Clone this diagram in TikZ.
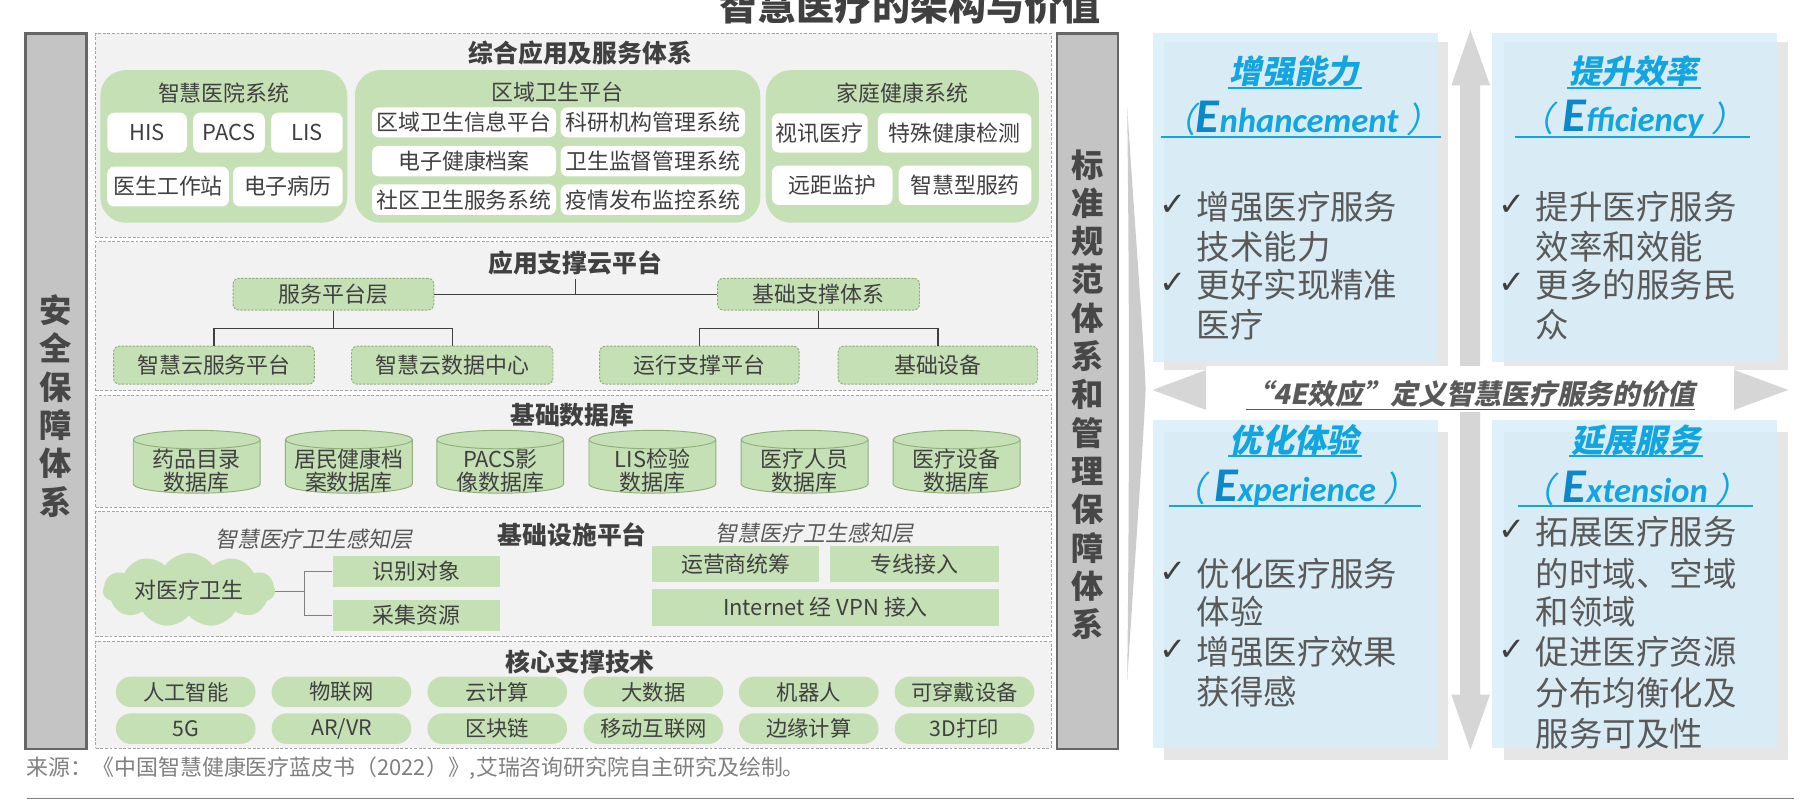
\documentclass[tikz,border=0pt]{standalone}
\usepackage{fontspec}
\setmainfont{Noto Sans CJK SC}
\newfontfamily\cjkit{Noto Sans CJK SC}[FakeSlant=0.2]
\newfontfamily\carl{Carlito}
\newfontfamily\dejavu{DejaVu Sans}
\usetikzlibrary{shapes.geometric,shapes.symbols}
\definecolor{txt}{HTML}{404040}
\definecolor{grn}{HTML}{C5E0B4}
\definecolor{grnd}{HTML}{8FAE7C}
\definecolor{pnl}{HTML}{F2F2F2}
\definecolor{pnlb}{HTML}{A6A6A6}
\definecolor{blueT}{HTML}{12A5DF}
\definecolor{blueE}{HTML}{0A88C8}
\definecolor{boxbl}{RGB}{214,238,250}
\definecolor{shd}{HTML}{E6E6E6}
\definecolor{arr}{HTML}{D6D6D6}
\definecolor{btxt}{HTML}{595959}
\definecolor{srcg}{HTML}{808080}
\definecolor{barg}{HTML}{C4C4C4}
\tikzset{
  gbar/.style={fill=barg, draw=gray!80!black, line width=2pt, inner sep=0},
  vtext/.style={align=center, font=\bfseries\fontsize{28}{33.2}\selectfont, text=black!72},
  panel/.style={draw=pnlb, dash pattern=on 2.5pt off 1.5pt, line width=0.8pt, fill=pnl, inner sep=0},
  ptitle/.style={font=\bfseries\fontsize{21.5}{24}\selectfont, text=txt},
  grp/.style={fill=grn, rounded corners=22pt, inner sep=0},
  glabel/.style={font=\fontsize{19}{22}\selectfont, text=txt},
  wbox/.style={fill=white, rounded corners=6pt, inner sep=0, font=\fontsize{19}{22}\selectfont, text=txt},
  dbox/.style={fill=grn, draw=grnd, dash pattern=on 2pt off 1.2pt, line width=0.8pt, rounded corners=5pt, inner sep=0, font=\fontsize{19}{22}\selectfont, text=txt},
  cylpath/.style={fill=grn, draw=grnd, line width=0.8pt},
  cyltext/.style={align=center, font=\fontsize{19}{19.5}\selectfont, text=txt},
  gbox/.style={fill=grn, inner sep=0, font=\fontsize{19}{22}\selectfont, text=txt},
  pill/.style={fill=grn, rounded corners=13pt, minimum width=121, minimum height=26.5, inner sep=0, font=\fontsize{18.5}{20}\selectfont, text=txt},
  itlab/.style={font=\cjkit\fontsize{19}{22}\selectfont, text=btxt},
  conn/.style={draw=black!75, line width=1pt},
  conn2/.style={draw=gray, line width=1pt},
  shadowbox/.style={fill=shd, inner sep=0, minimum width=246.5, minimum height=284.7},
  bluebox/.style={fill=boxbl, fill opacity=0.8, inner sep=0, minimum width=247, minimum height=284.7},
  btitle/.style={font=\cjkit\bfseries\fontsize{28}{30}\selectfont, text=blueT},
  eline/.style={text=blueT, inner sep=0},
  uline/.style={draw=blueT, line width=1.8pt},
  chk/.style={anchor=west, font=\dejavu\fontsize{28}{30}\selectfont, text=txt, inner sep=0},
  btext/.style={anchor=west, font=\fontsize{29}{34}\selectfont, text=btxt, inner sep=0},
}
\newcommand\Ebig[1]{{\carl\bfseries\itshape\fontsize{42}{42}\selectfont\color{blueE}#1}}
\newcommand\Erest[1]{{\carl\bfseries\itshape\fontsize{30}{30}\selectfont #1}}
\newcommand\Par[1]{{\cjkit\fontsize{30}{30}\selectfont #1}}
\begin{document}
\begin{tikzpicture}[x=1pt,y=-1pt]
\useasboundingbox (0,0) rectangle (1568,695);
\fill[white] (0,0) rectangle (1568,695);

% main title
\node[font=\bfseries\fontsize{33}{36}\selectfont, text=txt] (title) at (789,5) {智慧医疗的架构与价值};

% side bars
\node[gbar, minimum width=53, minimum height=620] (lbar) at (48.5,339) {};
\node[vtext] (ltext) at (48.5,352) {安\\全\\保\\障\\体\\系};
\node[gbar, minimum width=53, minimum height=620] (rbar) at (942.5,339) {};
\node[vtext] (rtext) at (942.5,342) {标\\准\\规\\范\\体\\系\\和\\管\\理\\保\\障\\体\\系};

% panels
\node[panel, minimum width=828, minimum height=176.5] (p1) at (497,117.25) {};
\node[panel, minimum width=828, minimum height=129] (p2) at (497,274) {};
\node[panel, minimum width=828, minimum height=97.3] (p3) at (497,391) {};
\node[panel, minimum width=828, minimum height=108.3] (p4) at (497,497.6) {};
\node[panel, minimum width=828, minimum height=92.6] (p5) at (497,602.3) {};

\node[ptitle] (t1) at (503,46) {综合应用及服务体系};
\node[ptitle] (t2) at (498.5,228) {应用支撑云平台};
\node[ptitle] (t3) at (496,360) {基础数据库};
\node[ptitle] (t4) at (496,463.7) {基础设施平台};
\node[ptitle] (t5) at (503,573.5) {核心支撑技术};

% panel 1 groups
\node[grp, minimum width=214, minimum height=132.3] (g1) at (194,126.9) {};
\node[grp, minimum width=351.4, minimum height=132.3] (g2) at (483.3,126.9) {};
\node[grp, minimum width=236.8, minimum height=132.3] (g3) at (782.1,126.9) {};
\node[glabel] (g1l) at (194,80.6) {智慧医院系统};
\node[glabel] (g2l) at (483.3,79.5) {区域卫生平台};
\node[glabel] (g3l) at (782.1,81) {家庭健康系统};

\node[wbox, minimum width=69, minimum height=34.6] (his) at (127.5,115) {HIS};
\node[wbox, minimum width=62, minimum height=34.6] (pacs) at (198.5,115) {PACS};
\node[wbox, minimum width=62, minimum height=34.6] (lis) at (266,115) {LIS};
\node[wbox, minimum width=105.5, minimum height=34.5] (ysgz) at (145.7,161.7) {医生工作站};
\node[wbox, minimum width=95, minimum height=34.5] (dzbl) at (249.5,161.7) {电子病历};

\node[wbox, minimum width=159.5, minimum height=26] (r11) at (402.2,106) {区域卫生信息平台};
\node[wbox, minimum width=159.8, minimum height=26] (r12) at (565.9,106) {科研机构管理系统};
\node[wbox, minimum width=159.5, minimum height=26.5] (r21) at (402.2,139.7) {电子健康档案};
\node[wbox, minimum width=159.8, minimum height=26.5] (r22) at (565.9,139.7) {卫生监督管理系统};
\node[wbox, minimum width=159.5, minimum height=26.5] (r31) at (402.2,173.1) {社区卫生服务系统};
\node[wbox, minimum width=159.8, minimum height=26.5] (r32) at (565.9,173.1) {疫情发布监控系统};

\node[wbox, minimum width=83, minimum height=34] (sxyl) at (710.5,115.2) {视讯医疗};
\node[wbox, minimum width=133, minimum height=34] (tsjk) at (827.5,115.2) {特殊健康检测};
\node[wbox, minimum width=104.6, minimum height=34] (yjjh) at (721.3,160.6) {远距监护};
\node[wbox, minimum width=115, minimum height=34] (zhfy) at (836.5,160.6) {智慧型服药};

% panel 2
\node[dbox, minimum width=174, minimum height=27.5] (fw) at (289,255) {服务平台层};
\node[dbox, minimum width=175, minimum height=27.5] (jc) at (709.5,255) {基础支撑体系};
\node[dbox, minimum width=174, minimum height=33] (c1) at (185.5,316.5) {智慧云服务平台};
\node[dbox, minimum width=174.6, minimum height=33] (c2) at (392,316.5) {智慧云数据中心};
\node[dbox, minimum width=172.8, minimum height=33] (c3) at (606.2,316.5) {运行支撑平台};
\node[dbox, minimum width=173, minimum height=33] (c4) at (813,316.5) {基础设备};
\coordinate (bus) at (0,284.6);
\draw[conn] (fw.east) -- (jc.west);
\draw[conn] (t2.south) -- (t2.south |- fw.east);
\draw[conn] (fw.south) -- (fw.south |- bus);
\draw[conn] (c1.north) -- (c1.north |- bus) -- (c2.north |- bus) -- (c2.north);
\draw[conn] (jc.south) -- (jc.south |- bus);
\draw[conn] (c3.north) -- (c3.north |- bus) -- (c4.north |- bus) -- (c4.north);

% panel 3 cylinders
\foreach \n/\x/\t in {d1/170.5/{药品目录\\数据库}, d2/302.4/{居民健康档\\案数据库}, d3/433.6/{PACS影\\像数据库}, d4/565.5/{LIS检验\\数据库}, d5/697.4/{医疗人员\\数据库}, d6/829.2/{医疗设备\\数据库}}{
  \path[cylpath] (\x-55,381) -- (\x-55,419.5) arc[start angle=180, end angle=0, x radius=55, y radius=8] -- (\x+55,381) arc[start angle=0, end angle=-180, x radius=55, y radius=8] -- cycle;
  \draw[grnd, line width=0.8pt] (\x-55,381) arc[start angle=180, end angle=0, x radius=55, y radius=8];
  \node[cyltext] (\n) at (\x,408) {\t};
}

% panel 4
\node[itlab] (it1) at (272,467.5) {智慧医疗卫生感知层};
\node[itlab] (it2) at (706,462.3) {智慧医疗卫生感知层};
\node[cloud, cloud puffs=11, cloud puff arc=110, aspect=2.9, fill=grn, minimum width=149, minimum height=52, inner sep=0, font=\fontsize{19}{22}\selectfont, text=txt] (cloud) at (163.8,511.4) {对医疗卫生};
\node[gbox, minimum width=145.3, minimum height=27] (sb) at (361,495.5) {识别对象};
\node[gbox, minimum width=145.3, minimum height=27] (cj) at (361,533.5) {采集资源};
\coordinate (j) at (263.7,512.8);
\draw[conn2] (cloud.east |- j) -- (j);
\draw[conn2] (sb.west) -| (j) |- (cj.west);
\node[gbox, minimum width=144.7, minimum height=31.4] (yy) at (637.9,489) {运营商统筹};
\node[gbox, minimum width=146, minimum height=31.4] (zx) at (792.5,489) {专线接入};
\node[gbox, minimum width=300, minimum height=31.8] (vpn) at (715.5,526.7) {Internet 经 VPN 接入};

% panel 5 pills
\foreach \n/\x/\a/\b in {k1/161/人工智能/5G, k2/296/物联网/AR\slash VR, k3/431/云计算/区块链, k4/566.4/大数据/移动互联网, k5/701/机器人/边缘计算, k6/836/可穿戴设备/3D打印}{
  \node[pill] (\n a) at (\x,599.75) {\a};
  \node[pill] (\n b) at (\x,631.6) {\b};
}

% source and rule
\node[anchor=west, inner sep=0, font=\fontsize{19}{21}\selectfont, text=srcg] (src) at (23,666) {来源：《中国智慧健康医疗蓝皮书（2022）》,艾瑞咨询研究院自主研究及绘制。};
\coordinate (ruleL) at (23,692);
\coordinate (ruleR) at (1555,692);
\draw[gray, line width=1.5pt] (ruleL) -- (ruleR);

% right side: wedge
\fill[gray!40] (977,93) .. controls (984,200) and (991,290) .. (993,337) .. controls (991,384) and (984,480) .. (977,590) .. controls (979,430) and (979,250) .. cycle;

% vertical double arrow
\fill[arr] (1274.5,26) -- (1291.5,74) -- (1283,74) -- (1283,602) -- (1291.5,602) -- (1274.5,650) -- (1258,602) -- (1265.5,602) -- (1265.5,74) -- (1258,74) -- cycle;

% boxes
\node[shadowbox] (b1s) at (1131.75,178.35) {};
\node[shadowbox] (b2s) at (1426.5,178.35) {};
\node[shadowbox] (b3s) at (1131.75,516.4) {};
\node[shadowbox] (b4s) at (1426.5,516.4) {};
\node[bluebox] (b1) at (1122.5,171.2) {};
\node[bluebox] (b2) at (1416.5,171.2) {};
\node[bluebox] (b3) at (1122.5,506.3) {};
\node[bluebox] (b4) at (1416.5,506.3) {};

% horizontal arrow heads and banner
\fill[arr] (999,338) -- (1045.5,320.7) -- (1045.5,355.4) -- cycle;
\fill[arr] (1550,338) -- (1503,320.7) -- (1503,355.4) -- cycle;
\node[fill=white, inner sep=0, minimum width=457.5, minimum height=39.8] (ban) at (1274.25,336.9) {};
\node[font=\cjkit\bfseries\fontsize{24}{26}\selectfont, text=btxt] (bant) at (1274.7,341.4) {“4E效应”定义智慧医疗服务的价值};
\draw[btxt, line width=1.6pt] (1079.8,355) -- (1468.8,355);

% titles
\node[btitle] (h1) at (1122,62) {增强能力};
\node[btitle] (h2) at (1416,62) {提升效率};
\node[btitle] (h3) at (1122,381.4) {优化体验};
\node[btitle] (h4) at (1418,381.4) {延展服务};
\draw[uline] (1064,76.6) -- (1180.4,76.6);
\draw[uline] (1358,76.6) -- (1474.5,76.6);
\draw[uline] (1064,395) -- (1180.4,395);
\draw[uline] (1360,395) -- (1476,395);

\node[eline] (e1) at (1127.7,103) {\Par{（}\Ebig{E}\Erest{nhancement }\Par{）}};
\node[eline] (e2) at (1415.2,103) {\Par{（}\Erest{ }\Ebig{E}\Erest{fficiency }\Par{）}};
\node[eline] (e3) at (1122.5,423.7) {\Par{（}\Erest{ }\Ebig{E}\Erest{xperience }\Par{）}};
\node[eline] (e4) at (1417.5,423.7) {\Par{（}\Erest{ }\Ebig{E}\Erest{xtension }\Par{）}};
\draw[uline] (1006.6,119) -- (1248.8,119);
\draw[uline] (1313.5,119) -- (1517,119);
\draw[uline] (1013,438.3) -- (1232,438.3);
\draw[uline] (1315.4,438.3) -- (1519.5,438.3);

% bullets box 1
\node[chk] (k11) at (1005,178) {✓};
\node[btext] (l11) at (1037,179) {增强医疗服务};
\node[btext] (l12) at (1037,213.8) {技术能力};
\node[chk] (k12) at (1005,246) {✓};
\node[btext] (l13) at (1037,247) {更好实现精准};
\node[btext] (l14) at (1037,281.7) {医疗};
% box 2
\node[chk] (k21) at (1299,178) {✓};
\node[btext] (l21) at (1331,179) {提升医疗服务};
\node[btext] (l22) at (1331,213.8) {效率和效能};
\node[chk] (k22) at (1299,246) {✓};
\node[btext] (l23) at (1331,247) {更多的服务民};
\node[btext] (l24) at (1331,281.7) {众};
% box 3
\node[chk] (k31) at (1005,496) {✓};
\node[btext] (l31) at (1037,497) {优化医疗服务};
\node[btext] (l32) at (1037,530) {体验};
\node[chk] (k32) at (1005,564) {✓};
\node[btext] (l33) at (1037,565) {增强医疗效果};
\node[btext] (l34) at (1037,599.5) {获得感};
% box 4
\node[chk] (k41) at (1299,459.8) {✓};
\node[btext] (l41) at (1331,460.8) {拓展医疗服务};
\node[btext] (l42) at (1331,497) {的时域、空域};
\node[btext] (l43) at (1331,530) {和领域};
\node[chk] (k42) at (1299,564) {✓};
\node[btext] (l44) at (1331,565) {促进医疗资源};
\node[btext] (l45) at (1331,600.5) {分布均衡化及};
\node[btext] (l46) at (1331,635.6) {服务可及性};
\end{tikzpicture}
\end{document}
